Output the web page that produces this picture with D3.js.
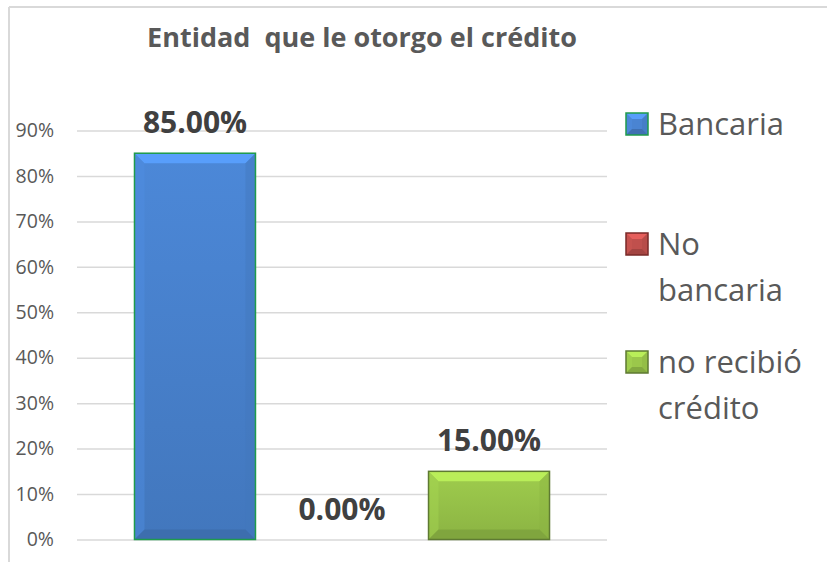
<!DOCTYPE html>
<html>
<head>
<meta charset="utf-8">
<script src="https://cdn.jsdelivr.net/npm/d3@7"></script>
<style>
  body { margin: 0; background: #fff; }
  svg { display: block; font-family: "Open Sans", sans-serif; }
</style>
</head>
<body>
<svg width="827" height="562"></svg>
<script>
var title = "Entidad  que le otorgo el crédito";
var series = ["Bancaria", "No bancaria", "no recibió crédito"];
var values = [0.85, 0.00, 0.15];
var valueLabels = ["85.00%", "0.00%", "15.00%"];
var legendLines = [["Bancaria"], ["No", "bancaria"], ["no recibió", "crédito"]];
var tickValues = [0, 0.1, 0.2, 0.3, 0.4, 0.5, 0.6, 0.7, 0.8, 0.9];

var colors = {"Bancaria": "#4a84d2", "No bancaria": "#c0504d", "no recibió crédito": "#9bc74b"},
  outlines = {"Bancaria": "#1f9b4c", "No bancaria": "#7a2a28", "no recibió crédito": "#5e7a32"};

var svg = d3.select("svg");
var defs = svg.append("defs");

// vertical shading, lighter at the top, darker at the bottom
series.forEach(function(s, i) {
  var c = d3.color(colors[s]);
  var grad = defs.append("linearGradient")
    .attr("id", "grad" + i)
    .attr("x1", 0).attr("y1", 0).attr("x2", 0).attr("y2", 1);
  grad.append("stop").attr("offset", "0%").attr("stop-color", c.brighter(0.08));
  grad.append("stop").attr("offset", "100%").attr("stop-color", c.darker(0.3));
});

// chart frame (left + top edges only visible)
svg.append("line").attr("x1", 9).attr("y1", 7).attr("x2", 827).attr("y2", 7)
  .attr("stroke", "#d9d9d9").attr("stroke-width", 2);
svg.append("line").attr("x1", 9).attr("y1", 7).attr("x2", 9).attr("y2", 562)
  .attr("stroke", "#d9d9d9").attr("stroke-width", 2);

svg.append("text")
  .attr("x", 362).attr("y", 47)
  .attr("text-anchor", "middle")
  .style("white-space", "pre")
  .attr("font-size", 27).attr("font-weight", "bold")
  .attr("fill", "#595959")
  .text(title);

var plotLeft = 77, plotRight = 607;

var y = d3.scaleLinear().domain([0, 0.9]).range([539.5, 130.5]);

var x = d3.scaleBand()
  .domain(series)
  .range([plotLeft, plotRight])
  .paddingInner(0.177)
  .paddingOuter(0.391);

var yAxis = svg.append("g")
  .attr("transform", "translate(" + plotLeft + ",0)")
  .call(d3.axisLeft(y)
    .tickValues(tickValues)
    .tickFormat(d3.format(".0%"))
    .tickSizeInner(-(plotRight - plotLeft))
    .tickSizeOuter(0)
    .tickPadding(23));

yAxis.select(".domain").remove();
yAxis.selectAll("line").attr("stroke", "#d9d9d9").attr("stroke-width", 1.5);
yAxis.selectAll("text")
  .attr("font-family", "Open Sans, sans-serif")
  .attr("font-size", 19.5)
  .attr("fill", "#595959");

// draws a box with an Excel-like bevel
function bevel(g, x0, y0, w, h, b, c, fill, line, lw) {
  var x1 = x0 + w, y1 = y0 + h, base = d3.color(c);
  if (h <= 0) return;
  b = Math.min(b, h / 2, w / 2);
  g.append("rect").attr("x", x0).attr("y", y0).attr("width", w).attr("height", h)
    .attr("fill", fill);
  var faces = [
    {pts: [[x0, y0], [x1, y0], [x1 - b, y0 + b], [x0 + b, y0 + b]], f: base.brighter(0.55), o: 0.9},
    {pts: [[x0, y0], [x0 + b, y0 + b], [x0 + b, y1 - b], [x0, y1]], f: base.brighter(0.2), o: 0.45},
    {pts: [[x1, y0], [x1 - b, y0 + b], [x1 - b, y1 - b], [x1, y1]], f: base.darker(0.3), o: 0.45},
    {pts: [[x0, y1], [x0 + b, y1 - b], [x1 - b, y1 - b], [x1, y1]], f: base.darker(0.6), o: 0.8}
  ];
  faces.forEach(function(fc) {
    g.append("polygon")
      .attr("points", fc.pts.map(function(p) { return p.join(","); }).join(" "))
      .attr("fill", fc.f)
      .attr("fill-opacity", fc.o);
  });
  g.append("rect").attr("x", x0).attr("y", y0).attr("width", w).attr("height", h)
    .attr("fill", "none").attr("stroke", line).attr("stroke-width", lw);
}

var bars = svg.append("g");
series.forEach(function(s, i) {
  var top = y(values[i]), h = y(0) - top;
  bevel(bars.append("g"), x(s), top, x.bandwidth(), h, 10, colors[s], "url(#grad" + i + ")", outlines[s], 1.5);
});

svg.append("g").selectAll("text")
  .data(series)
  .enter().append("text")
    .attr("x", function(d) { return x(d) + x.bandwidth() / 2; })
    .attr("y", function(d, i) { return y(values[i]) - 20; })
    .attr("text-anchor", "middle")
    .attr("font-size", 30).attr("font-weight", "bold")
    .attr("fill", "#404040")
    .text(function(d, i) { return valueLabels[i]; });

// legend
var legendTops = [113, 233, 351];
var legend = svg.append("g");
series.forEach(function(s, i) {
  var g = legend.append("g");
  bevel(g, 626, legendTops[i], 22, 22, 6, colors[s], colors[s], outlines[s], 1.5);
  legendLines[i].forEach(function(t, j) {
    g.append("text")
      .attr("x", 658).attr("y", legendTops[i] + 22 + j * 46)
      .attr("font-size", 31)
      .attr("fill", "#595959")
      .text(t);
  });
});
</script>
</body>
</html>
